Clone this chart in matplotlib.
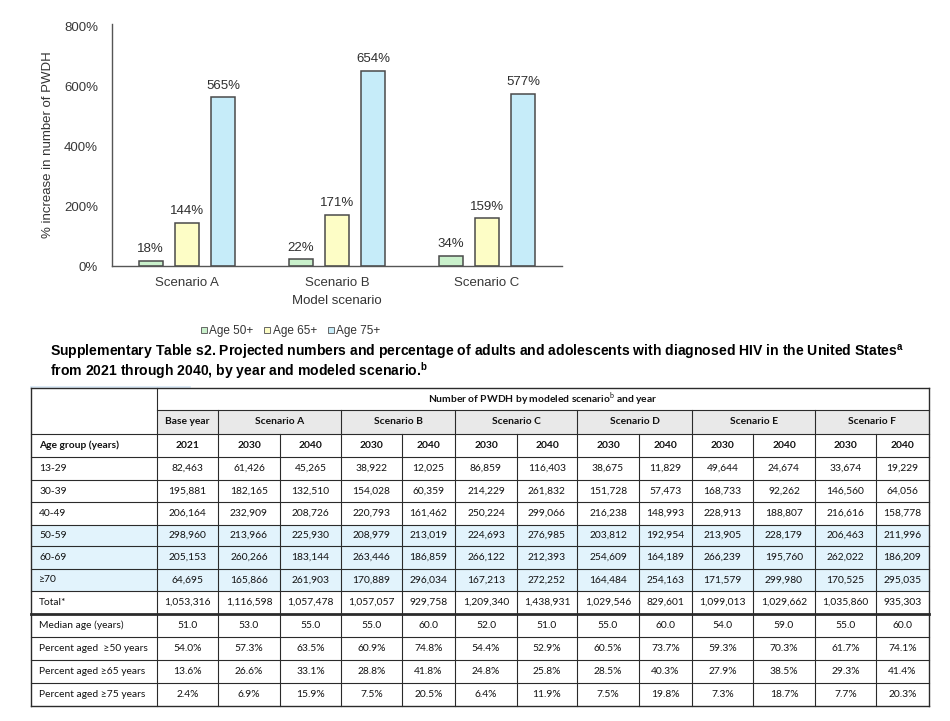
import matplotlib.pyplot as plt
from matplotlib.lines import Line2D
from matplotlib.patches import Rectangle
import numpy as np

plt.rcParams['font.family'] = ['Liberation Sans', 'DejaVu Sans']
plt.rcParams['mathtext.fontset'] = 'custom'
plt.rcParams['mathtext.bf'] = 'Liberation Sans:bold'
plt.rcParams['mathtext.rm'] = 'Lato'

# ---- bar chart data ----
scenarios = ['Scenario A', 'Scenario B', 'Scenario C']
series = ['Age 50+', 'Age 65+', 'Age 75+']
age50 = [18, 22, 34]
age65 = [144, 171, 159]
age75 = [565, 654, 577]
bar_colors = ['#c9f0cb', '#fdfdc6', '#c6ecf9']

# ---- table data ----
scen_heads = ['Base year', 'Scenario A', 'Scenario B', 'Scenario C',
              'Scenario D', 'Scenario E', 'Scenario F']
years = ['2021'] + ['2030', '2040'] * 6
row_labels = ['13-29', '30-39', '40-49', '50-59', '60-69', '≥70', 'Total*',
              'Median age (years)', 'Percent aged  ≥50 years',
              'Percent aged ≥65 years', 'Percent aged ≥75 years']
r13_29 = [82463, 61426, 45265, 38922, 12025, 86859, 116403, 38675, 11829, 49644, 24674, 33674, 19229]
r30_39 = [195881, 182165, 132510, 154028, 60359, 214229, 261832, 151728, 57473, 168733, 92262, 146560, 64056]
r40_49 = [206164, 232909, 208726, 220793, 161462, 250224, 299066, 216238, 148993, 228913, 188807, 216616, 158778]
r50_59 = [298960, 213966, 225930, 208979, 213019, 224693, 276985, 203812, 192954, 213905, 228179, 206463, 211996]
r60_69 = [205153, 260266, 183144, 263446, 186859, 266122, 212393, 254609, 164189, 266239, 195760, 262022, 186209]
r70 = [64695, 165866, 261903, 170889, 296034, 167213, 272252, 164484, 254163, 171579, 299980, 170525, 295035]
total = [1053316, 1116598, 1057478, 1057057, 929758, 1209340, 1438931, 1029546, 829601, 1099013, 1029662, 1035860, 935303]
median_age = [51.0, 53.0, 55.0, 55.0, 60.0, 52.0, 51.0, 55.0, 60.0, 54.0, 59.0, 55.0, 60.0]
pct50 = [54.0, 57.3, 63.5, 60.9, 74.8, 54.4, 52.9, 60.5, 73.7, 59.3, 70.3, 61.7, 74.1]
pct65 = [13.6, 26.6, 33.1, 28.8, 41.8, 24.8, 25.8, 28.5, 40.3, 27.9, 38.5, 29.3, 41.4]
pct75 = [2.4, 6.9, 15.9, 7.5, 20.5, 6.4, 11.9, 7.5, 19.8, 7.3, 18.7, 7.7, 20.3]

fig = plt.figure(figsize=(9.5, 7.21), dpi=100)

# overlay axes in pixel units for title + table
tax = fig.add_axes([0, 0, 1, 1], zorder=0)
tax.set_xlim(0, 950)
tax.set_ylim(721, 0)
tax.axis('off')

# ---- bar chart ----
ax = fig.add_axes([112 / 950, 1 - 266 / 721, 450 / 950, 242 / 721], zorder=2)
ax.patch.set_alpha(0)
x = np.arange(len(scenarios))
step, width = 0.243, 0.16
for i, (vals, c) in enumerate(zip([age50, age65, age75], bar_colors)):
    bars = ax.bar(x + (i - 1) * step, vals, width, color=c, edgecolor='#4a4a4a',
                  linewidth=1.1, label=series[i])
    for b, v in zip(bars, vals):
        ax.annotate(f'{v}%', (b.get_x() + b.get_width() / 2, v),
                    xytext=(0, 4), textcoords='offset points', ha='center',
                    va='bottom', fontsize=9.5, color='#2e2e2e')

ax.set_xlim(-0.5, 2.5)
ax.set_ylim(0, 810)
ax.set_yticks([0, 200, 400, 600, 800])
ax.set_yticklabels([f'{t}%' for t in [0, 200, 400, 600, 800]])
ax.set_xticks(x)
ax.set_xticklabels(scenarios)
ax.tick_params(length=0, labelsize=9.5, labelcolor='#383838')
ax.tick_params(axis='y', pad=10)
ax.tick_params(axis='x', pad=8)
for s in ['top', 'right']:
    ax.spines[s].set_visible(False)
for s in ['left', 'bottom']:
    ax.spines[s].set_color('#555555')
    ax.spines[s].set_linewidth(1)
ax.set_xlabel('Model scenario', fontsize=9.5, color='#333333', labelpad=4)
ax.set_ylabel('% increase in number of PWDH', fontsize=9.5, color='#333333')
ax.yaxis.set_label_coords(-0.128, 0.5)

handles = [Line2D([], [], marker='s', ls='', markersize=4.5, markerfacecolor=c,
                  markeredgecolor='#666666', markeredgewidth=0.7) for c in bar_colors]
fig.legend(handles, series, loc='center left', bbox_to_anchor=(200 / 950, 1 - 331 / 721),
           frameon=False, ncol=3, handlelength=0.6, handletextpad=0.15,
           columnspacing=0.9, fontsize=8.5, borderpad=0, borderaxespad=0,
           labelcolor='#333333')

# ---- title ----
tax.text(50, 352, 'Supplementary Table s2. Projected numbers and percentage of adults and '
         'adolescents with diagnosed HIV in the United States$^{\\mathbf{a}}$',
         fontsize=10.1, fontweight='bold', va='center', ha='left')
tax.text(50, 371, 'from 2021 through 2040, by year and modeled scenario.$^{\\mathbf{b}}$',
         fontsize=10.1, fontweight='bold', va='center', ha='left')
tax.plot([31, 190], [387, 387], color='#d5e6f5', lw=1.2)

# ---- table ----
col_edges = [31, 157, 218, 280, 341, 402, 455, 517, 577, 639, 692, 753, 815, 876, 929]
row_edges = [388, 410, 434, 457, 480, 502, 525, 546, 569, 591, 614, 637, 660, 683, 706]
tfont = ['Lato', 'DejaVu Sans']
tsize = 7.4
tcol = '#111111'
line_c = '#2b2b2b'

# fills
tax.add_patch(Rectangle((col_edges[1], row_edges[1]), col_edges[-1] - col_edges[1],
                        row_edges[2] - row_edges[1], color='#e9e9e9', lw=0))
for r in (6, 7, 8):
    tax.add_patch(Rectangle((col_edges[0], row_edges[r]), col_edges[-1] - col_edges[0],
                            row_edges[r + 1] - row_edges[r], color='#e2f3fc', lw=0))

# horizontal lines
tax.plot([col_edges[0], col_edges[-1]], [row_edges[0]] * 2, color=line_c, lw=1)
tax.plot([col_edges[1], col_edges[-1]], [row_edges[1]] * 2, color=line_c, lw=0.8)
for r in row_edges[2:]:
    lw = 2 if r == 614 else 0.8
    if r == row_edges[-1]:
        lw = 1
    tax.plot([col_edges[0], col_edges[-1]], [r, r], color=line_c, lw=lw)

# vertical lines
group_edges = [col_edges[i] for i in (0, 1, 2, 4, 6, 8, 10, 12, 14)]
for cx in col_edges:
    top = row_edges[2]
    if cx in (col_edges[0], col_edges[1], col_edges[-1]):
        top = row_edges[0]
    elif cx in group_edges:
        top = row_edges[1]
    lw = 1 if cx in (col_edges[0], col_edges[-1]) else 0.8
    tax.plot([cx, cx], [top, row_edges[-1]], color=line_c, lw=lw)

# header texts
tax.text((col_edges[1] + col_edges[-1]) / 2, (row_edges[0] + row_edges[1]) / 2,
         'Number of PWDH by modeled scenario$^{\\mathrm{b}}$ and year', color=tcol,
         ha='center', va='center', fontsize=tsize, fontweight='bold', family=tfont)
head_cols = [(1, 2)] + [(2 + 2 * k, 4 + 2 * k) for k in range(6)]
for name, (a, b) in zip(scen_heads, head_cols):
    tax.text((col_edges[a] + col_edges[b]) / 2, (row_edges[1] + row_edges[2]) / 2, name,
             ha='center', va='center', fontsize=tsize, fontweight='bold', family=tfont,
             color=tcol)
ymid = (row_edges[2] + row_edges[3]) / 2
tax.text(col_edges[0] + 8, ymid, 'Age group (years)', ha='left', va='center',
         fontsize=tsize, fontweight='bold', family=tfont, color=tcol)
for j, yr in enumerate(years):
    tax.text((col_edges[j + 1] + col_edges[j + 2]) / 2, ymid, yr, ha='center',
             va='center', fontsize=tsize, fontweight='bold', family=tfont, color=tcol)

# body
body = [[f'{v:,}' for v in r] for r in (r13_29, r30_39, r40_49, r50_59, r60_69, r70, total)]
body.append([f'{v:.1f}' for v in median_age])
for p in (pct50, pct65, pct75):
    body.append([f'{v:.1f}%' for v in p])
for i, (lab, vals) in enumerate(zip(row_labels, body)):
    yc = (row_edges[i + 3] + row_edges[i + 4]) / 2
    tax.text(col_edges[0] + 8, yc, lab, ha='left', va='center', fontsize=tsize,
             family=tfont, color=tcol)
    for j, v in enumerate(vals):
        tax.text((col_edges[j + 1] + col_edges[j + 2]) / 2, yc, v, ha='center',
                 va='center', fontsize=tsize, family=tfont, color=tcol)

fig.savefig('out.png', dpi=100)
